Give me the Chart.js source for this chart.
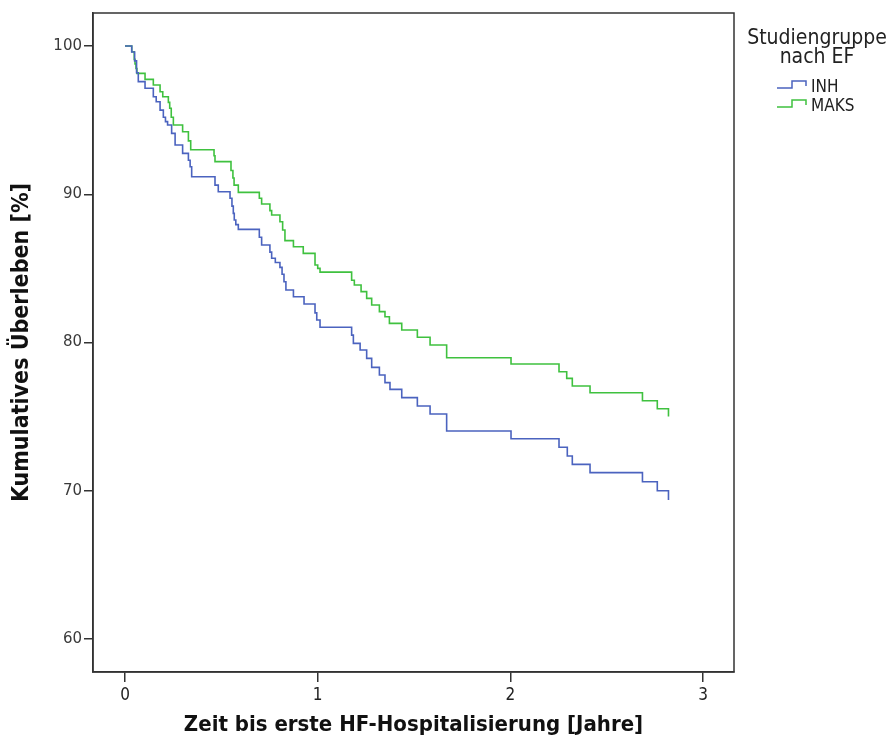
<!DOCTYPE html>
<html><head><meta charset="utf-8">
<script src="https://cdn.jsdelivr.net/npm/chart.js@4"></script>
<style>html,body{margin:0;padding:0;background:#fff}#wrap{width:894px;height:744px;position:relative}</style>
</head><body><div id="wrap"><canvas id="c" width="894" height="744"></canvas></div>
<script>
const seriesNames = ['INH', 'MAKS'];
const legendTitle = ['Studiengruppe', 'nach EF'];
const xAxisTitle = 'Zeit bis erste HF-Hospitalisierung [Jahre]';
const yAxisTitle = 'Kumulatives Überleben [%]';
const xTicks = [0, 1, 2, 3];
const yTicks = [60, 70, 80, 90, 100];

const inhTimes = [0, 0.035, 0.05, 0.06, 0.069, 0.104, 0.147, 0.162, 0.182, 0.199, 0.21, 0.221, 0.242, 0.26, 0.299, 0.329, 0.338, 0.346, 0.467, 0.484, 0.545, 0.555, 0.562, 0.567, 0.575, 0.588, 0.697, 0.709, 0.752, 0.761, 0.78, 0.804, 0.815, 0.825, 0.835, 0.874, 0.929, 0.986, 0.995, 1.012, 1.176, 1.185, 1.22, 1.254, 1.28, 1.32, 1.349, 1.375, 1.436, 1.517, 1.583, 1.669, 2.003, 2.252, 2.295, 2.321, 2.413, 2.685, 2.762, 2.82];
const inhSurvival = [100, 99.6, 99.0, 98.2, 97.6, 97.15, 96.58, 96.24, 95.68, 95.2, 94.9, 94.67, 94.11, 93.32, 92.76, 92.3, 91.86, 91.18, 90.62, 90.17, 89.73, 89.2, 88.71, 88.26, 87.95, 87.63, 87.1, 86.58, 86.1, 85.68, 85.4, 85.07, 84.6, 84.1, 83.54, 83.09, 82.6, 82.0, 81.52, 81.03, 80.5, 79.94, 79.49, 78.93, 78.32, 77.81, 77.29, 76.84, 76.28, 75.72, 75.18, 74.03, 73.51, 72.93, 72.34, 71.78, 71.22, 70.61, 70.0, 69.38];

const maksTimes = [0, 0.035, 0.048, 0.052, 0.057, 0.062, 0.104, 0.147, 0.182, 0.196, 0.225, 0.232, 0.24, 0.251, 0.299, 0.329, 0.341, 0.462, 0.467, 0.55, 0.56, 0.566, 0.588, 0.697, 0.709, 0.752, 0.761, 0.804, 0.818, 0.83, 0.874, 0.925, 0.986, 1.0, 1.012, 1.176, 1.19, 1.225, 1.254, 1.28, 1.32, 1.349, 1.372, 1.436, 1.517, 1.583, 1.669, 2.003, 2.252, 2.292, 2.321, 2.413, 2.685, 2.762, 2.82];
const maksSurvival = [100, 99.62, 99.1, 98.8, 98.49, 98.16, 97.75, 97.37, 96.92, 96.58, 96.2, 95.8, 95.2, 94.67, 94.22, 93.6, 93.0, 92.6, 92.2, 91.6, 91.1, 90.62, 90.13, 89.73, 89.34, 88.9, 88.6, 88.15, 87.59, 86.87, 86.46, 86.01, 85.23, 85.0, 84.75, 84.2, 83.88, 83.43, 82.98, 82.53, 82.08, 81.74, 81.29, 80.84, 80.35, 79.83, 78.97, 78.55, 78.03, 77.58, 77.07, 76.61, 76.07, 75.53, 75.0];

const seriesColors = ['#4b63bf', '#3fc13f'];
const axisColor = '#333333';
const textColor = '#222222';

function toPoints(ts, vs) { return ts.map((t, i) => ({ x: t, y: vs[i] })); }

const boxPlugin = {
  id: 'box',
  afterDraw(chart) {
    const { ctx, chartArea: a } = chart;
    ctx.save();
    ctx.strokeStyle = axisColor;
    ctx.lineWidth = 1.5;
    ctx.strokeRect(a.left, a.top, a.right - a.left, a.bottom - a.top);
    ctx.restore();
  }
};

const legendPlugin = {
  id: 'stepLegend',
  afterDraw(chart) {
    const { ctx } = chart;
    ctx.save();
    ctx.fillStyle = textColor;
    ctx.textAlign = 'center';
    ctx.textBaseline = 'alphabetic';
    ctx.font = '21px "DejaVu Sans Condensed", "DejaVu Sans", sans-serif';
    ctx.fillText(legendTitle[0], 817, 44);
    ctx.fillText(legendTitle[1], 817, 63);
    ctx.textAlign = 'left';
    ctx.font = '17px "DejaVu Sans Condensed", "DejaVu Sans", sans-serif';
    seriesNames.forEach((name, i) => {
      const y = 88 + i * 19;
      ctx.strokeStyle = seriesColors[i];
      ctx.lineWidth = 1.5;
      ctx.beginPath();
      ctx.moveTo(777, y);
      ctx.lineTo(792, y);
      ctx.lineTo(792, y - 7);
      ctx.lineTo(806, y - 7);
      ctx.lineTo(806, y - 2);
      ctx.stroke();
      ctx.fillStyle = textColor;
      ctx.fillText(name, 811, y + 4);
    });
    ctx.restore();
  }
};

new Chart(document.getElementById('c'), {
  type: 'line',
  data: {
    datasets: [
      { label: seriesNames[0], data: toPoints(inhTimes, inhSurvival), borderColor: seriesColors[0], borderWidth: 1.6, stepped: 'before', pointRadius: 0, fill: false },
      { label: seriesNames[1], data: toPoints(maksTimes, maksSurvival), borderColor: seriesColors[1], borderWidth: 1.6, stepped: 'before', pointRadius: 0, fill: false }
    ]
  },
  options: {
    responsive: false,
    devicePixelRatio: 1,
    animation: false,
    layout: { padding: { left: 0, top: 13, right: 160, bottom: 0 } },
    plugins: { legend: { display: false }, tooltip: { enabled: false } },
    scales: {
      x: {
        type: 'linear', min: -0.166, max: 3.16,
        afterBuildTicks: s => { s.ticks = xTicks.map(v => ({ value: v })); },
        afterFit: s => { s.height = 72; },
        grid: { display: true, drawOnChartArea: false, drawTicks: true, tickLength: 10, color: axisColor, lineWidth: 1.5 },
        border: { display: true, color: axisColor, width: 1.5 },
        ticks: { autoSkip: false, maxRotation: 0, padding: 3, color: textColor, font: { family: '"Liberation Sans Narrow", "DejaVu Sans Condensed", sans-serif', size: 17 } },
        title: { display: true, text: xAxisTitle, color: '#111', font: { family: '"DejaVu Sans Condensed", "DejaVu Sans", sans-serif', size: 22, weight: 'bold' }, padding: { top: 0, bottom: 6 } }
      },
      y: {
        type: 'linear', min: 57.77, max: 102.23,
        afterBuildTicks: s => { s.ticks = yTicks.map(v => ({ value: v })); },
        afterFit: s => { s.width = 93; },
        grid: { display: true, drawOnChartArea: false, drawTicks: true, tickLength: 9, color: axisColor, lineWidth: 1.5 },
        border: { display: true, color: axisColor, width: 1.5 },
        ticks: { autoSkip: false, padding: 2, color: '#3a3a3a', font: { family: '"DejaVu Sans", sans-serif', size: 15 } },
        title: { display: true, text: yAxisTitle, color: '#111', font: { family: '"DejaVu Sans Condensed", "DejaVu Sans", sans-serif', size: 23, weight: 'bold' }, padding: { top: 8, bottom: 0 } }
      }
    }
  },
  plugins: [boxPlugin, legendPlugin]
});
</script>
</body></html>
